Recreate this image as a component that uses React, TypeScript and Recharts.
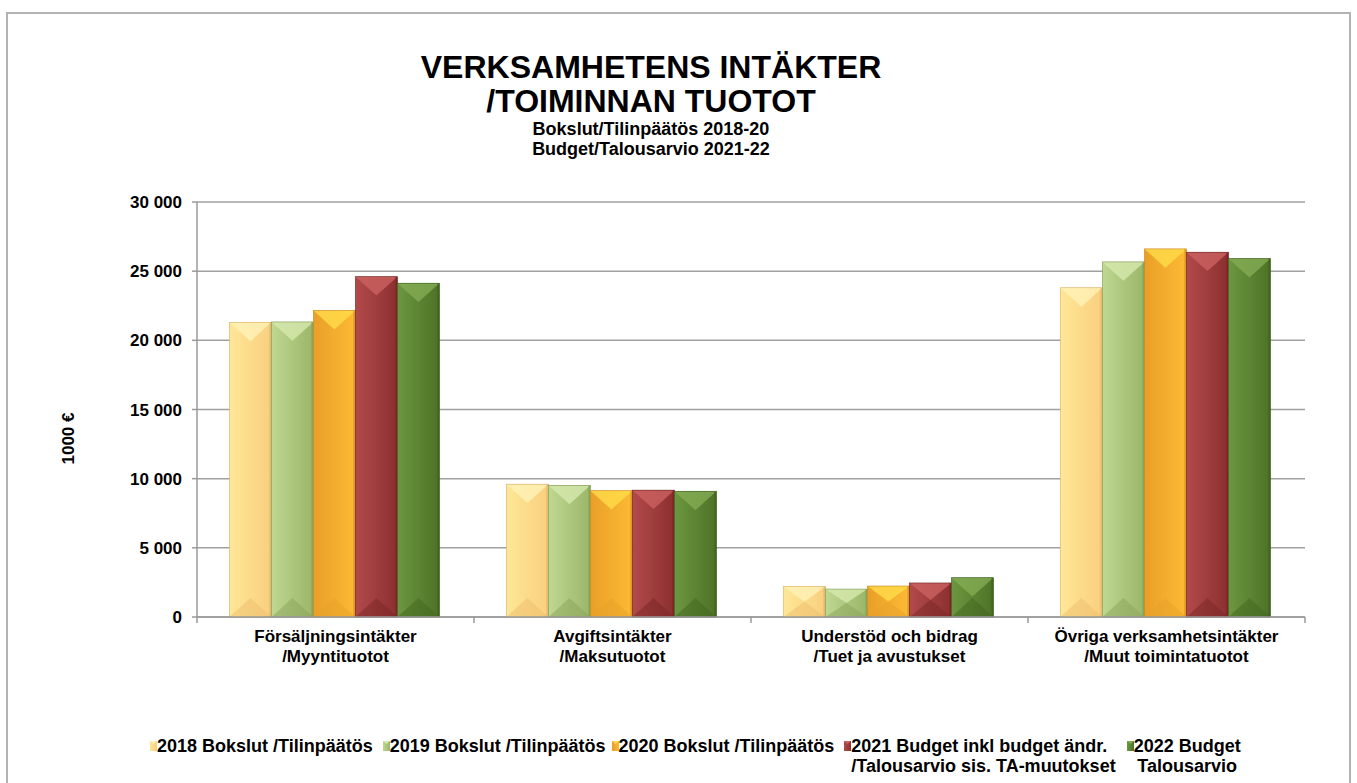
import React from "react";
import {
  BarChart,
  Bar,
  XAxis,
  YAxis,
  CartesianGrid,
  Legend,
} from "recharts";

// kategorier (två rader per etikett)
const categories = [
  "Försäljningsintäkter\n/Myyntituotot",
  "Avgiftsintäkter\n/Maksutuotot",
  "Understöd och bidrag\n/Tuet ja avustukset",
  "Övriga verksamhetsintäkter\n/Muut toimintatuotot",
];

// värden i 1000 €
const v2018 = [21300, 9600, 2200, 23800];
const v2019 = [21330, 9520, 2020, 25670];
const v2020 = [22150, 9130, 2240, 26610];
const v2021 = [24600, 9170, 2460, 26370];
const v2022 = [24130, 9090, 2840, 25910];

const yTicks = [0, 5000, 10000, 15000, 20000, 25000, 30000];

const seriesNames = [
  "2018 Bokslut /Tilinpäätös",
  "2019 Bokslut /Tilinpäätös",
  "2020 Bokslut /Tilinpäätös",
  "2021 Budget inkl budget ändr.\n/Talousarvio sis. TA-muutokset",
  "2022 Budget\nTalousarvio",
];

const FONT = '"Liberation Sans", Arial, sans-serif';

// färger: vänster, höger, topp-fas, botten-fas, kant
const palettes = [
  { id: "s18", left: "#FEE797", right: "#F9CF7E", top: "#FFF2B8", bottom: "#EDBE6C", edge: "#D9AE60" },
  { id: "s19", left: "#BFD892", right: "#9AB668", top: "#D6E9AE", bottom: "#89A45A", edge: "#7E9852" },
  { id: "s20", left: "#E99F28", right: "#FDBA34", top: "#FFDC4A", bottom: "#E8A22A", edge: "#C9861C" },
  { id: "s21", left: "#B24A4A", right: "#8C2F2F", top: "#CC6262", bottom: "#7A2626", edge: "#6E2222" },
  { id: "s22", left: "#6C9740", right: "#4D7226", top: "#83AB54", bottom: "#41651E", edge: "#3C5C1C" },
];

const keys = ["y2018", "y2019", "y2020", "y2021", "y2022"];

const data = categories.map((c, i) => ({
  name: c,
  y2018: v2018[i],
  y2019: v2019[i],
  y2020: v2020[i],
  y2021: v2021[i],
  y2022: v2022[i],
}));

const fmt = (v: number) => String(v).replace(/\B(?=(\d{3})+(?!\d))/g, " ");

function makeShape(p: (typeof palettes)[number]) {
  return (props: any) => {
    const { x, y, width: w, height: h } = props;
    if (!h || h <= 0) return <g />;
    const d = Math.min(w * 0.45, h / 2);
    const cx = x + w / 2;
    return (
      <g>
        <rect x={x} y={y} width={w} height={h} fill={`url(#g-${p.id})`} />
        <polygon points={`${x},${y} ${x + w},${y} ${cx},${y + d}`} fill={p.top} opacity={0.8} />
        <polygon points={`${x},${y + h} ${x + w},${y + h} ${cx},${y + h - d}`} fill={p.bottom} opacity={0.5} />
        <rect x={x + w - 2} y={y} width={2} height={h} fill={p.edge} opacity={0.6} />
        <rect x={x} y={y} width={w} height={h} fill="none" stroke={p.edge} strokeWidth={0.6} />
      </g>
    );
  };
}

const CatTick = (props: any) => {
  const { x, y, payload, index } = props;
  const half = payload?.offset ?? 138.5;
  const lines = String(payload.value).split("\n");
  return (
    <g>
      <line x1={x - half} y1={y} x2={x - half} y2={y + 6} stroke="#9a9a9a" strokeWidth={1.5} />
      {index === categories.length - 1 && (
        <line x1={x + half} y1={y} x2={x + half} y2={y + 6} stroke="#9a9a9a" strokeWidth={1.5} />
      )}
      {lines.map((l, i) => (
        <text
          key={i}
          x={x}
          y={y + 25 + i * 20}
          textAnchor="middle"
          fontFamily={FONT}
          fontWeight="bold"
          fontSize={17}
          fill="#000"
        >
          {l}
        </text>
      ))}
    </g>
  );
};

const LegendContent = () => (
  <div
    style={{
      height: 44,
      display: "flex",
      justifyContent: "flex-start",
      paddingLeft: 63,
      paddingTop: 3,
      boxSizing: "border-box",
      fontFamily: FONT,
      fontWeight: "bold",
      fontSize: 18,
      lineHeight: "20px",
      color: "#000",
    }}
  >
    {seriesNames.map((n, i) => {
      const p = palettes[i];
      return (
        <div key={i} style={{ display: "flex", alignItems: "flex-start", marginRight: i === 3 ? 11 : i === 1 ? 6 : 10 }}>
          <svg width={7} height={10} style={{ marginTop: 5, marginRight: 0, flex: "none" }}>
            <rect x={0} y={0} width={7} height={10} fill={`url(#lg-${p.id})`} />
            <polygon points="0,0 7,0 3.5,3" fill={p.top} />
          </svg>
          <div style={{ whiteSpace: "pre", textAlign: i === 4 ? "center" : "left" }}>{n}</div>
        </div>
      );
    })}
    <svg width={0} height={0} style={{ position: "absolute" }}>
      <defs>
        {palettes.map((p) => (
          <linearGradient key={p.id} id={`lg-${p.id}`} x1="0" y1="0" x2="1" y2="0">
            <stop offset="0%" stopColor={p.left} />
            <stop offset="100%" stopColor={p.right} />
          </linearGradient>
        ))}
      </defs>
    </svg>
  </div>
);

export default function App() {
  return (
    <div
      style={{
        position: "absolute",
        left: 6,
        top: 12,
        width: 1341,
        height: 790,
        border: "2px solid #b3b3b3",
        background: "#fff",
        fontFamily: FONT,
      }}
    >
      <div
        style={{
          position: "absolute",
          left: 0,
          top: 36,
          width: 1286,
          textAlign: "center",
          fontWeight: "bold",
          color: "#000",
        }}
      >
        <div style={{ fontSize: 32, lineHeight: "34px" }}>VERKSAMHETENS INTÄKTER</div>
        <div style={{ fontSize: 32, lineHeight: "34px" }}>/TOIMINNAN TUOTOT</div>
        <div style={{ fontSize: 18, lineHeight: "20px", marginTop: 1 }}>Bokslut/Tilinpäätös 2018-20</div>
        <div style={{ fontSize: 18, lineHeight: "20px" }}>Budget/Talousarvio 2021-22</div>
      </div>

      <BarChart
        width={1341}
        height={769}
        data={data}
        margin={{ top: 188, right: 44, left: 79, bottom: 6 }}
        barCategoryGap="11.7%"
        barGap={0}
      >
        <defs>
          {palettes.map((p) => (
            <linearGradient key={p.id} id={`g-${p.id}`} x1="0" y1="0" x2="1" y2="0">
              <stop offset="0%" stopColor={p.left} />
              <stop offset="100%" stopColor={p.right} />
            </linearGradient>
          ))}
        </defs>
        <CartesianGrid vertical={false} stroke="#a0a0a0" strokeWidth={1.5} />
        <XAxis
          dataKey="name"
          height={116}
          interval={0}
          tickLine={false}
          tickSize={0}
          tickMargin={0}
          axisLine={{ stroke: "#9a9a9a", strokeWidth: 1.5 }}
          tick={<CatTick />}
        />
        <YAxis
          width={110}
          domain={[0, 30000]}
          ticks={yTicks}
          tickFormatter={fmt}
          tickSize={5}
          tickMargin={10}
          axisLine={{ stroke: "#9a9a9a", strokeWidth: 1.5 }}
          tickLine={{ stroke: "#9a9a9a", strokeWidth: 1.5 }}
          tick={{ fontFamily: FONT, fontWeight: "bold", fontSize: 17, fill: "#000" }}
          label={{
            content: (lp: any) => {
              const vb = lp.viewBox || {};
              const lx = (vb.x ?? 79) - 13;
              const ly = (vb.y ?? 188) + (vb.height ?? 415) / 2 + 29;
              return (
                <text
                  x={lx}
                  y={ly}
                  transform={`rotate(-90 ${lx} ${ly})`}
                  textAnchor="middle"
                  fontFamily={FONT}
                  fontWeight="bold"
                  style={{ fontSize: 17 }}
                  fill="#000"
                >
                  1000 €
                </text>
              );
            },
          }}
        />
        <Legend verticalAlign="bottom" align="left" content={<LegendContent />} />
        {keys.map((k, i) => (
          <Bar
            key={k}
            dataKey={k}
            name={seriesNames[i]}
            fill={palettes[i].left}
            shape={makeShape(palettes[i])}
            isAnimationActive={false}
          />
        ))}
      </BarChart>
    </div>
  );
}
